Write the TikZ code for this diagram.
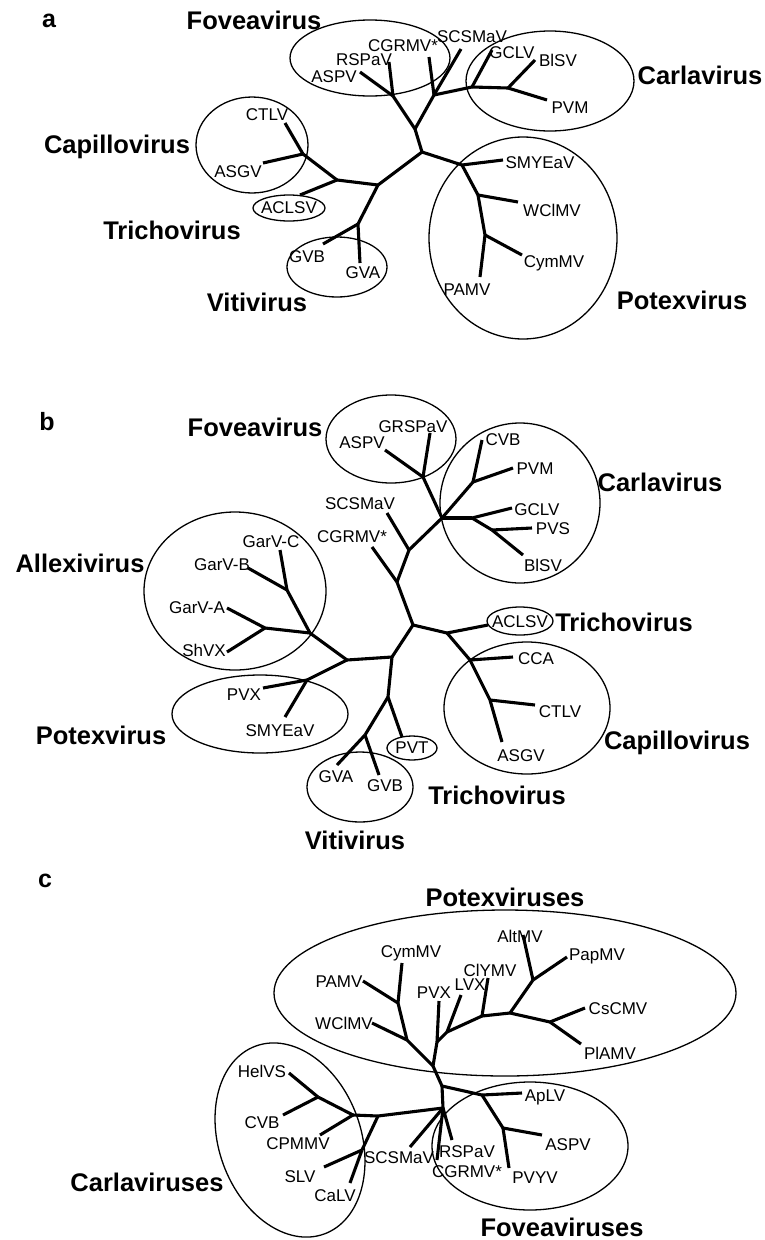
\documentclass[tikz,border=0pt]{standalone}
\usepackage{fontspec}
\setmainfont{Liberation Sans}

\begin{document}
\begin{tikzpicture}[
  x=1pt,y=-1pt,
  branch/.style={line width=3.1pt,line join=round},
  group/.style={line width=1.3pt},
  taxon/.style={font=\fontsize{17}{19}\selectfont,inner sep=0pt},
  clade/.style={font=\fontsize{25.5}{28}\selectfont\bfseries,inner sep=0pt},
  panel/.style={font=\fontsize{25}{27}\selectfont\bfseries,inner sep=0pt}
]
  \useasboundingbox (0,0) rectangle (764,1240);

  % panel a
  \node[panel] (pa) at (49,21) {a};
  \foreach \n/\x/\y in {aR/422/152,aF/415/129,aF1/393/96,aF2/434/95,aC1/472/87,
      aC2/508/88,aP/462/165,aP1/478/195,aP2/485/235,aL/378/185,aT/337/180,
      aK/303/154,aV/358/224,aASPV/360/72,aRSPaV/389/62,aCGRMV/429/57,
      aSCSMaV/461/49,aGCLV/492/50,aBlSV/535/60,aPVM/547/100,aSMYEaV/503/160,
      aWClMV/518/202,aCymMV/522/255,aPAMV/480/277,aACLSV/300/195,
      aCTLV/285/123,aASGV/263/163,aGVB/323/244,aGVA/360/263}
    \coordinate (\n) at (\x,\y);
  \foreach \u/\v in {aR/aF,aF/aF1,aF1/aASPV,aF1/aRSPaV,aF/aF2,aF2/aCGRMV,
      aF2/aSCSMaV,aF2/aC1,aC1/aGCLV,aC1/aC2,aC2/aBlSV,aC2/aPVM,aR/aP,
      aP/aSMYEaV,aP/aP1,aP1/aWClMV,aP1/aP2,aP2/aCymMV,aP2/aPAMV,aR/aL,
      aL/aT,aT/aACLSV,aT/aK,aK/aCTLV,aK/aASGV,aL/aV,aV/aGVB,aV/aGVA}
    \draw[branch] (\u) -- (\v);
  \foreach \n/\x/\y/\t in {la1/334/77/ASPV,la2/364/60/RSPaV,la3/403/46/CGRMV*,
      la4/472/37/SCSMaV,la5/512/53/GCLV,la6/558/60/BlSV,la7/570/108/PVM,
      la8/540/163/SMYEaV,la9/552/210/WClMV,la10/554/263/CymMV,
      la11/467/290/PAMV,la12/289/208/ACLSV,la13/267/115/CTLV,
      la14/238/172/ASGV,la15/307/257/GVB,la16/363/273/GVA}
    \node[taxon] (\n) at (\x,\y) {\t};
  \foreach \x/\y/\rx/\ry in {370/58/80/38,550/81/84/50,252/145/56/48,
      289/208/36/13,337/267/50/30,523/238/94/101}
    \draw[group] (\x,\y) ellipse [x radius=\rx,y radius=\ry];
  \foreach \n/\x/\y/\t in {ca1/254/20/Foveavirus,ca2/700/75/Carlavirus,
      ca3/117/147/Capillovirus,ca4/172/230/Trichovirus,ca5/257/302/Vitivirus,
      ca6/682/300/Potexvirus}
    \node[clade] (\n) at (\x,\y) {\t};

  % panel b
  \node[panel] (pb) at (47,422) {b};
  \foreach \n/\x/\y in {bR/413/625,bU/397/582,bS/409/550,bC/442/518,bF/423/477,
      bC1/473/482,bC2/472/518,bC3/492/530,bT/447/633,bK/470/660,bK2/490/700,
      bD/392/657,bA/347/660,bA1/310/633,bA2/287/590,bA3/265/628,bX/307/680,
      bV/388/697,bV2/365/735,bCGRMV/372/547,bSCSMaV/387/513,bASPV/385/450,
      bGRSPaV/430/433,bCVB/482/440,bPVM/513/468,bGCLV/512/508,bPVS/532/528,
      bBlSV/523/555,bACLSV/488/625,bCCA/513/657,bCTLV/535/705,bASGV/502/742,
      bGarVC/280/550,bGarVB/248/568,bGarVA/227/608,bShVX/227/652,
      bPVX/263/688,bSMYEaV/285/717,bPVT/402/737,bGVA/337/765,bGVB/379/775}
    \coordinate (\n) at (\x,\y);
  \foreach \u/\v in {bR/bU,bU/bCGRMV,bU/bS,bS/bSCSMaV,bS/bC,bC/bF,bF/bASPV,
      bF/bGRSPaV,bC/bC1,bC1/bCVB,bC1/bPVM,bC/bC2,bC2/bGCLV,bC2/bC3,bC3/bPVS,
      bC3/bBlSV,bR/bT,bT/bACLSV,bT/bK,bK/bCCA,bK/bK2,bK2/bCTLV,bK2/bASGV,
      bR/bD,bD/bA,bA/bA1,bA1/bA2,bA2/bGarVC,bA2/bGarVB,bA1/bA3,bA3/bGarVA,
      bA3/bShVX,bA/bX,bX/bPVX,bX/bSMYEaV,bD/bV,bV/bPVT,bV/bV2,bV2/bGVA,
      bV2/bGVB}
    \draw[branch] (\u) -- (\v);
  \foreach \n/\x/\y/\t in {lb1/362/443/ASPV,lb2/413/427/GRSPaV,
      lb3/360/504/SCSMaV,lb4/352/537/CGRMV*,lb5/503/440/CVB,lb6/535/469/PVM,
      lb7/537/510/GCLV,lb8/553/529/PVS,lb9/543/565/BlSV,lb10/520/622/ACLSV,
      lb11/536/659/CCA,lb12/560/712/CTLV,lb13/521/756/ASGV,
      lb14/271/542/GarV-C,lb15/222/565/GarV-B,lb16/197/608/GarV-A,
      lb17/204/650/ShVX,lb18/244/695/PVX,lb19/280/731/SMYEaV,
      lb20/412/748/PVT,lb21/336/777/GVA,lb22/385/786/GVB}
    \node[taxon] (\n) at (\x,\y) {\t};
  \foreach \x/\y/\rx/\ry in {391/439/65/44,520/503/80/80,235/591/91/79,
      520/621/33/14,527/708/83/66,260/714/88/39,412/748/25/12,360/787/53/35}
    \draw[group] (\x,\y) ellipse [x radius=\rx,y radius=\ry];
  \foreach \n/\x/\y/\t in {cb1/255/427/Foveavirus,cb2/660/482/Carlavirus,
      cb3/80/563/Allexivirus,cb4/624/622/Trichovirus,cb5/101/735/Potexvirus,
      cb6/677/743/Capillovirus,cb7/497/795/Trichovirus,cb8/355/840/Vitivirus}
    \node[clade] (\n) at (\x,\y) {\t};

  % panel c
  \node[panel] (pc) at (45,881) {c};
  \foreach \n/\x/\y in {cR/442/1086,cP/433/1066,cP1/407/1040,cP2/398/1003,
      cP3/437/1042,cP4/447/1032,cP5/482/1016,cP6/510/1013,cP7/533/980,
      cP8/550/1022,cF/482/1095,cF1/503/1128,cQ/443/1108,cL1/378/1116,
      cL2/362/1150,cK/353/1115,cK1/318/1097,cCymMV/402/963,cPAMV/363/981,
      cWClMV/372/1023,cPVX/439/1001,cLVX/461/995,cClYMV/488/978,
      cAltMV/523/935,cPapMV/567/957,cCsCMV/585/1008,cPlAMV/581/1044,
      cApLV/522/1093,cASPV/542/1135,cPVYV/509/1168,cRSPaV/452/1140,
      cCGRMV/437/1160,cSCSMaV/410/1147,cSLV/324/1167,cCaLV/350/1183,
      cHelVS/289/1073,cCVB/283/1115,cCPMMV/320/1135}
    \coordinate (\n) at (\x,\y);
  \foreach \u/\v in {cR/cP,cP/cP1,cP1/cP2,cP2/cCymMV,cP2/cPAMV,cP1/cWClMV,
      cP/cP3,cP3/cPVX,cP3/cP4,cP4/cLVX,cP4/cP5,cP5/cClYMV,cP5/cP6,cP6/cP7,
      cP7/cAltMV,cP7/cPapMV,cP6/cP8,cP8/cCsCMV,cP8/cPlAMV,cR/cF,cF/cApLV,
      cF/cF1,cF1/cASPV,cF1/cPVYV,cR/cQ,cQ/cRSPaV,cQ/cCGRMV,cQ/cSCSMaV,
      cQ/cL1,cL1/cL2,cL2/cSLV,cL2/cCaLV,cL1/cK,cK/cK1,cK1/cHelVS,cK1/cCVB,
      cK/cCPMMV}
    \draw[branch] (\u) -- (\v);
  \foreach \n/\x/\y/\t in {lc1/411/953/CymMV,lc2/339/982/PAMV,
      lc3/344/1023/WClMV,lc4/434/993/PVX,lc5/470/985/LVX,lc6/490/970/ClYMV,
      lc7/520/936/AltMV,lc8/597/956/PapMV,lc9/618/1009/CsCMV,
      lc10/610/1053/PlAMV,lc11/545/1097/ApLV,lc12/568/1145/ASPV,
      lc13/535/1178/PVYV,lc14/467/1152/RSPaV,lc15/467/1172/CGRMV*,
      lc16/399/1158/SCSMaV,lc17/262/1071/HelVS,lc18/262/1123/CVB,
      lc19/298/1144/CPMMV,lc20/300/1177/SLV,lc21/335/1196/CaLV}
    \node[taxon] (\n) at (\x,\y) {\t};
  \draw[group] (505,993) ellipse [x radius=231,y radius=83];
  \draw[group] (530,1146) ellipse [x radius=98,y radius=64];
  \draw[group,rotate around={20:(290,1140)}] (290,1140)
    ellipse [x radius=71,y radius=100];
  \foreach \n/\x/\y/\t in {cc1/505/897/Potexviruses,cc2/147/1182/Carlaviruses,
      cc3/562/1227/Foveaviruses}
    \node[clade] (\n) at (\x,\y) {\t};
\end{tikzpicture}
\end{document}
